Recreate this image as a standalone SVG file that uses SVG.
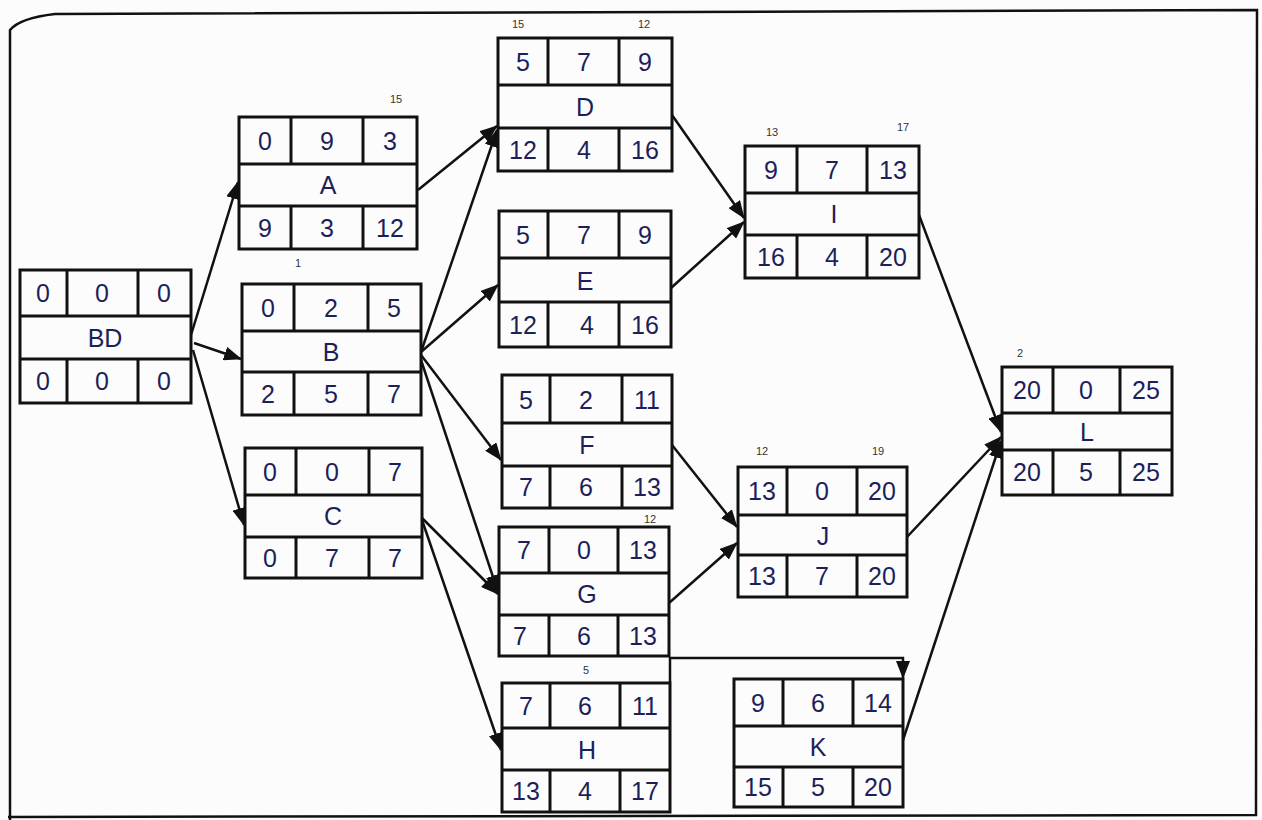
<svg xmlns="http://www.w3.org/2000/svg" width="1262" height="820" viewBox="0 0 1262 820">
<style>
.bx{fill:none;stroke:#111;stroke-width:3}
.ln{stroke:#111;stroke-width:3}
.t{font-family:"Liberation Sans",Arial,sans-serif;font-size:25px;fill:#1c1f5a;text-anchor:middle;dominant-baseline:central}
.n{font-family:"Liberation Sans",Arial,sans-serif;font-size:11px;fill:#333;text-anchor:middle}
.c{fill:none;stroke:#111;stroke-width:2.5}
</style>
<defs>
<marker id="ah" markerUnits="userSpaceOnUse" markerWidth="18" markerHeight="14" refX="17" refY="7" orient="auto">
<path d="M0,0 L18,7 L0,14 Z" fill="#111"/>
</marker>
</defs>
<rect width="1262" height="820" fill="#fcfcfc"/>
<path d="M10,820 L10,30 Q20,18 55,14 L1257,10 L1256,815 L8,817" fill="none" stroke="#111" stroke-width="2.5"/>

<g id="connectors">
<line class="c" x1="191" y1="335" x2="238" y2="182" marker-end="url(#ah)"/>
<line class="c" x1="194" y1="343" x2="241" y2="359" marker-end="url(#ah)"/>
<line class="c" x1="193" y1="350" x2="244" y2="525" marker-end="url(#ah)"/>
<line class="c" x1="418" y1="190" x2="497" y2="126" marker-end="url(#ah)"/>
<line class="c" x1="421" y1="352" x2="497" y2="130" marker-end="url(#ah)"/>
<line class="c" x1="421" y1="352" x2="498" y2="285" marker-end="url(#ah)"/>
<line class="c" x1="421" y1="355" x2="501" y2="460" marker-end="url(#ah)"/>
<line class="c" x1="421" y1="360" x2="498" y2="592" marker-end="url(#ah)"/>
<line class="c" x1="422" y1="518" x2="498" y2="594" marker-end="url(#ah)"/>
<line class="c" x1="422" y1="520" x2="501" y2="750" marker-end="url(#ah)"/>
<line class="c" x1="672" y1="115" x2="744" y2="218" marker-end="url(#ah)"/>
<line class="c" x1="671" y1="288" x2="744" y2="222" marker-end="url(#ah)"/>
<line class="c" x1="672" y1="445" x2="737" y2="527" marker-end="url(#ah)"/>
<line class="c" x1="669" y1="603" x2="737" y2="543" marker-end="url(#ah)"/>
<polyline class="c" points="670,682 670,658 903,658 903,678" marker-end="url(#ah)"/>
<line class="c" x1="919" y1="215" x2="1001" y2="432" marker-end="url(#ah)"/>
<line class="c" x1="907" y1="537" x2="1001" y2="437" marker-end="url(#ah)"/>
<line class="c" x1="903" y1="740" x2="1001" y2="441" marker-end="url(#ah)"/>
</g>

<g id="node-BD">
<rect class="bx" x="20" y="270" width="171" height="133"/>
<line class="ln" x1="20" y1="316" x2="191" y2="316"/><line class="ln" x1="20" y1="359" x2="191" y2="359"/>
<line class="ln" x1="67" y1="270" x2="67" y2="316"/><line class="ln" x1="138" y1="270" x2="138" y2="316"/>
<line class="ln" x1="67" y1="359" x2="67" y2="403"/><line class="ln" x1="138" y1="359" x2="138" y2="403"/>
<text class="t" x="43" y="293">0</text><text class="t" x="102" y="293">0</text><text class="t" x="164" y="293">0</text>
<text class="t" x="105" y="338">BD</text>
<text class="t" x="43" y="381">0</text><text class="t" x="102" y="381">0</text><text class="t" x="164" y="381">0</text>
</g>

<g id="node-A">
<rect class="bx" x="239" y="117" width="178" height="132"/>
<line class="ln" x1="239" y1="164" x2="417" y2="164"/><line class="ln" x1="239" y1="206" x2="417" y2="206"/>
<line class="ln" x1="291" y1="117" x2="291" y2="164"/><line class="ln" x1="363" y1="117" x2="363" y2="164"/>
<line class="ln" x1="291" y1="206" x2="291" y2="249"/><line class="ln" x1="363" y1="206" x2="363" y2="249"/>
<text class="t" x="265" y="141">0</text><text class="t" x="327" y="141">9</text><text class="t" x="390" y="141">3</text>
<text class="t" x="328" y="185">A</text>
<text class="t" x="265" y="228">9</text><text class="t" x="327" y="228">3</text><text class="t" x="390" y="228">12</text>
<text class="n" x="396" y="103">15</text>
<text class="n" x="298" y="267">1</text>
</g>

<g id="node-B">
<rect class="bx" x="242" y="284" width="179" height="131"/>
<line class="ln" x1="242" y1="331" x2="421" y2="331"/><line class="ln" x1="242" y1="372" x2="421" y2="372"/>
<line class="ln" x1="294" y1="284" x2="294" y2="331"/><line class="ln" x1="368" y1="284" x2="368" y2="331"/>
<line class="ln" x1="294" y1="372" x2="294" y2="415"/><line class="ln" x1="368" y1="372" x2="368" y2="415"/>
<text class="t" x="268" y="308">0</text><text class="t" x="331" y="308">2</text><text class="t" x="394" y="308">5</text>
<text class="t" x="331" y="352">B</text>
<text class="t" x="268" y="394">2</text><text class="t" x="331" y="394">5</text><text class="t" x="394" y="394">7</text>
</g>

<g id="node-C">
<rect class="bx" x="245" y="448" width="177" height="130"/>
<line class="ln" x1="245" y1="495" x2="422" y2="495"/><line class="ln" x1="245" y1="537" x2="422" y2="537"/>
<line class="ln" x1="296" y1="448" x2="296" y2="495"/><line class="ln" x1="369" y1="448" x2="369" y2="495"/>
<line class="ln" x1="296" y1="537" x2="296" y2="578"/><line class="ln" x1="369" y1="537" x2="369" y2="578"/>
<text class="t" x="270" y="472">0</text><text class="t" x="332" y="472">0</text><text class="t" x="395" y="472">7</text>
<text class="t" x="333" y="516">C</text>
<text class="t" x="270" y="558">0</text><text class="t" x="332" y="558">7</text><text class="t" x="395" y="558">7</text>
</g>

<g id="node-D">
<rect class="bx" x="498" y="38" width="174" height="133"/>
<line class="ln" x1="498" y1="85" x2="672" y2="85"/><line class="ln" x1="498" y1="128" x2="672" y2="128"/>
<line class="ln" x1="548" y1="38" x2="548" y2="85"/><line class="ln" x1="619" y1="38" x2="619" y2="85"/>
<line class="ln" x1="548" y1="128" x2="548" y2="171"/><line class="ln" x1="619" y1="128" x2="619" y2="171"/>
<text class="t" x="523" y="62">5</text><text class="t" x="584" y="62">7</text><text class="t" x="645" y="62">9</text>
<text class="t" x="585" y="107">D</text>
<text class="t" x="523" y="150">12</text><text class="t" x="584" y="150">4</text><text class="t" x="645" y="150">16</text>
<text class="n" x="518" y="28">15</text>
<text class="n" x="644" y="28">12</text>
</g>

<g id="node-E">
<rect class="bx" x="499" y="211" width="172" height="136"/>
<line class="ln" x1="499" y1="258" x2="671" y2="258"/><line class="ln" x1="499" y1="302" x2="671" y2="302"/>
<line class="ln" x1="548" y1="211" x2="548" y2="258"/><line class="ln" x1="619" y1="211" x2="619" y2="258"/>
<line class="ln" x1="548" y1="302" x2="548" y2="347"/><line class="ln" x1="619" y1="302" x2="619" y2="347"/>
<text class="t" x="523" y="235">5</text><text class="t" x="584" y="235">7</text><text class="t" x="645" y="235">9</text>
<text class="t" x="585" y="281">E</text>
<text class="t" x="523" y="325">12</text><text class="t" x="587" y="325">4</text><text class="t" x="645" y="325">16</text>
</g>

<g id="node-F">
<rect class="bx" x="502" y="375" width="170" height="133"/>
<line class="ln" x1="502" y1="423" x2="672" y2="423"/><line class="ln" x1="502" y1="466" x2="672" y2="466"/>
<line class="ln" x1="550" y1="375" x2="550" y2="423"/><line class="ln" x1="622" y1="375" x2="622" y2="423"/>
<line class="ln" x1="550" y1="466" x2="550" y2="508"/><line class="ln" x1="622" y1="466" x2="622" y2="508"/>
<text class="t" x="526" y="400">5</text><text class="t" x="586" y="400">2</text><text class="t" x="647" y="400">11</text>
<text class="t" x="587" y="445">F</text>
<text class="t" x="526" y="487">7</text><text class="t" x="586" y="487">6</text><text class="t" x="647" y="487">13</text>
</g>

<g id="node-G">
<rect class="bx" x="499" y="527" width="170" height="129"/>
<line class="ln" x1="499" y1="573" x2="669" y2="573"/><line class="ln" x1="499" y1="615" x2="669" y2="615"/>
<line class="ln" x1="549" y1="527" x2="549" y2="573"/><line class="ln" x1="618" y1="527" x2="618" y2="573"/>
<line class="ln" x1="549" y1="615" x2="549" y2="656"/><line class="ln" x1="618" y1="615" x2="618" y2="656"/>
<text class="t" x="524" y="550">7</text><text class="t" x="584" y="550">0</text><text class="t" x="643" y="550">13</text>
<text class="t" x="587" y="594">G</text>
<text class="t" x="520" y="636">7</text><text class="t" x="584" y="636">6</text><text class="t" x="643" y="636">13</text>
<text class="n" x="650" y="523">12</text>
</g>

<g id="node-H">
<rect class="bx" x="502" y="683" width="168" height="129"/>
<line class="ln" x1="502" y1="728" x2="670" y2="728"/><line class="ln" x1="502" y1="770" x2="670" y2="770"/>
<line class="ln" x1="550" y1="683" x2="550" y2="728"/><line class="ln" x1="620" y1="683" x2="620" y2="728"/>
<line class="ln" x1="550" y1="770" x2="550" y2="812"/><line class="ln" x1="620" y1="770" x2="620" y2="812"/>
<text class="t" x="526" y="706">7</text><text class="t" x="585" y="706">6</text><text class="t" x="645" y="706">11</text>
<text class="t" x="587" y="750">H</text>
<text class="t" x="526" y="791">13</text><text class="t" x="585" y="791">4</text><text class="t" x="645" y="791">17</text>
<text class="n" x="586" y="674">5</text>
</g>

<g id="node-I">
<rect class="bx" x="745" y="146" width="174" height="132"/>
<line class="ln" x1="745" y1="193" x2="919" y2="193"/><line class="ln" x1="745" y1="235" x2="919" y2="235"/>
<line class="ln" x1="797" y1="146" x2="797" y2="193"/><line class="ln" x1="867" y1="146" x2="867" y2="193"/>
<line class="ln" x1="797" y1="235" x2="797" y2="278"/><line class="ln" x1="867" y1="235" x2="867" y2="278"/>
<text class="t" x="771" y="170">9</text><text class="t" x="832" y="170">7</text><text class="t" x="893" y="170">13</text>
<text class="t" x="834" y="214">I</text>
<text class="t" x="771" y="257">16</text><text class="t" x="832" y="257">4</text><text class="t" x="893" y="257">20</text>
<text class="n" x="772" y="136">13</text>
<text class="n" x="903" y="131">17</text>
</g>

<g id="node-J">
<rect class="bx" x="738" y="467" width="169" height="130"/>
<line class="ln" x1="738" y1="515" x2="907" y2="515"/><line class="ln" x1="738" y1="555" x2="907" y2="555"/>
<line class="ln" x1="787" y1="467" x2="787" y2="515"/><line class="ln" x1="857" y1="467" x2="857" y2="515"/>
<line class="ln" x1="787" y1="555" x2="787" y2="597"/><line class="ln" x1="857" y1="555" x2="857" y2="597"/>
<text class="t" x="762" y="491">13</text><text class="t" x="822" y="491">0</text><text class="t" x="882" y="491">20</text>
<text class="t" x="823" y="536">J</text>
<text class="t" x="762" y="576">13</text><text class="t" x="822" y="576">7</text><text class="t" x="882" y="576">20</text>
<text class="n" x="762" y="455">12</text>
<text class="n" x="878" y="455">19</text>
</g>

<g id="node-K">
<rect class="bx" x="734" y="679" width="169" height="128"/>
<line class="ln" x1="734" y1="726" x2="903" y2="726"/><line class="ln" x1="734" y1="767" x2="903" y2="767"/>
<line class="ln" x1="783" y1="679" x2="783" y2="726"/><line class="ln" x1="853" y1="679" x2="853" y2="726"/>
<line class="ln" x1="783" y1="767" x2="783" y2="807"/><line class="ln" x1="853" y1="767" x2="853" y2="807"/>
<text class="t" x="758" y="703">9</text><text class="t" x="818" y="703">6</text><text class="t" x="878" y="703">14</text>
<text class="t" x="818" y="747">K</text>
<text class="t" x="758" y="787">15</text><text class="t" x="818" y="787">5</text><text class="t" x="878" y="787">20</text>
</g>

<g id="node-L">
<rect class="bx" x="1002" y="367" width="170" height="128"/>
<line class="ln" x1="1002" y1="413" x2="1172" y2="413"/><line class="ln" x1="1002" y1="450" x2="1172" y2="450"/>
<line class="ln" x1="1053" y1="367" x2="1053" y2="413"/><line class="ln" x1="1120" y1="367" x2="1120" y2="413"/>
<line class="ln" x1="1053" y1="450" x2="1053" y2="495"/><line class="ln" x1="1120" y1="450" x2="1120" y2="495"/>
<text class="t" x="1027" y="390">20</text><text class="t" x="1086" y="390">0</text><text class="t" x="1146" y="390">25</text>
<text class="t" x="1087" y="432">L</text>
<text class="t" x="1027" y="472">20</text><text class="t" x="1086" y="472">5</text><text class="t" x="1146" y="472">25</text>
<text class="n" x="1020" y="357">2</text>
</g>
</svg>
